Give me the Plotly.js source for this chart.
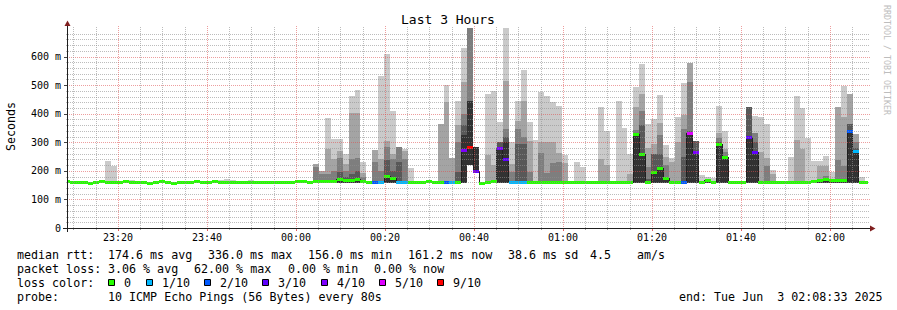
<!DOCTYPE html>
<html><head><meta charset="utf-8">
<script src="https://cdn.plot.ly/plotly-3.0.1.min.js"></script>
<style>
html,body{margin:0;padding:0;background:#fff;}
#chart{width:897px;height:310px;}
.trace.bars path{shape-rendering:crispEdges;}
.scatterlayer path.js-line{shape-rendering:crispEdges;}
</style>
</head><body><div id="chart"></div>
<script>
// ---- data (ms), one value per 80 s step, step 0 starts 2025-06-02 23:07:50 ----
const STEP_START = '2025-06-02 23:07:50';
const STEP_SECONDS = 80;

const median = [
 163,160,160,160,155,160,163,161,159,161,
 162,161,161,160,155,161,163,161,155,161,
 161,161,162,160,160,162,161,161,161,161,
 161,161,161,160,160,160,161,161,161,162,
 162,159,164,162,162,162,170,168,165,170,
 164,159,159,161,181,174,161,161,159,161,
 161,162,158,158,161,159,159,273,283,197,
 155,161,163,279,239,161,161,161,161,161,
 161,161,161,161,160,161,161,161,161,161,
 161,161,161,159,161,161,326,256,161,195,
 209,174,161,161,161,330,263,161,166,161,
 291,247,158,158,161,316,263,161,161,161,
 161,158,161,161,161,161,163,167,169,167,
 166,166,337,267,161,161];

const lossTenths = [
 0,0,0,0,0,0,0,0,0,0,
 0,0,0,0,0,0,0,0,0,0,
 0,0,0,0,0,0,0,0,0,0,
 0,0,0,0,0,0,0,0,0,0,
 0,0,0,0,0,0,0,0,0,0,
 0,0,2,1,0,0,1,1,0,0,
 0,0,0,0,2,1,0,4,9,3,
 0,0,0,4,3,1,1,1,0,0,
 0,0,0,0,0,0,0,0,0,0,
 0,0,0,0,0,0,0,0,0,0,
 0,0,0,0,2,5,4,0,0,0,
 0,0,0,0,0,3,3,0,0,0,
 0,0,0,0,0,0,0,0,0,0,
 0,0,2,1,0,0];

// smoke band tops: band1 = outermost (max ping) ... band5 = innermost
const smoke1 = [
 163,160,160,160,158,160,168,234,218,161,
 168,168,161,160,158,161,166,166,158,161,
 161,161,162,163,160,162,168,172,168,161,
 161,168,165,160,160,160,161,161,165,162,
 162,159,224,200,385,310,310,260,461,483,
 231,159,273,532,609,410,284,278,209,161,
 161,162,158,363,500,244,444,629,705,284,
 155,468,481,372,699,300,445,553,371,307,
 476,462,440,427,256,161,232,215,161,161,
 424,340,161,445,351,258,495,574,365,382,
 466,291,246,389,506,576,305,186,177,174,
 427,340,158,158,161,424,391,389,365,202,
 161,158,249,463,419,316,235,235,253,197,
 424,497,469,330,179,161];

const smoke2 = [
 163,160,160,160,155,160,163,161,159,161,
 162,161,161,160,155,161,163,161,155,161,
 161,161,162,160,160,162,161,161,161,161,
 161,166,161,160,160,160,161,161,165,162,
 162,159,224,200,277,242,270,224,401,401,
 193,159,273,240,305,260,284,270,159,161,
 161,162,158,363,442,244,360,511,705,284,
 155,256,221,302,515,224,375,445,305,161,
 300,300,300,264,228,161,161,161,161,161,
 242,221,161,159,161,190,424,470,280,293,
 368,250,232,300,396,576,305,161,166,161,
 334,277,158,158,161,424,333,267,244,190,
 161,158,161,308,277,161,163,218,218,167,
 424,389,469,330,161,161];

const smoke3 = [
 163,160,160,160,155,160,163,161,159,161,
 162,161,161,160,155,161,163,161,155,161,
 161,161,162,160,160,162,161,161,161,161,
 161,161,161,160,160,160,161,161,161,162,
 162,159,213,190,190,200,245,200,240,245,
 180,159,230,200,284,240,284,240,159,161,
 161,162,158,158,161,159,300,400,705,284,
 155,161,163,302,347,197,347,320,197,161,
 262,193,226,230,160,161,161,161,161,161,
 161,161,161,159,161,161,342,409,214,258,
 326,221,161,161,347,512,305,161,166,161,
 314,267,158,158,161,424,333,161,217,161,
 161,158,161,161,161,161,163,167,181,167,
 238,218,364,300,161,161];

const smoke4 = [
 163,160,160,160,155,160,163,161,159,161,
 162,161,161,160,155,161,163,161,155,161,
 161,161,162,160,160,162,161,161,161,161,
 161,161,161,160,160,160,161,161,161,162,
 162,159,164,162,162,162,197,180,190,199,
 164,159,159,161,238,200,230,161,159,161,
 161,162,158,158,161,159,196,360,445,284,
 155,161,163,302,320,161,294,294,161,161,
 161,161,161,161,160,161,161,161,161,161,
 161,161,161,159,161,161,330,360,170,258,
 260,180,161,161,250,340,305,161,166,161,
 300,250,158,158,161,424,300,161,161,161,
 161,158,161,161,161,161,163,167,169,167,
 166,166,364,280,161,161];

const smoke5 = [
 163,160,160,160,155,160,163,161,159,161,
 162,161,161,160,155,161,163,161,155,161,
 161,161,162,160,160,162,161,161,161,161,
 161,161,161,160,160,160,161,161,161,162,
 162,159,164,162,162,162,170,168,165,170,
 164,159,159,161,181,174,161,161,159,161,
 161,162,158,158,161,159,159,325,445,284,
 155,161,163,279,301,161,161,161,161,161,
 161,161,161,161,160,161,161,161,161,161,
 161,161,161,159,161,161,326,256,161,195,
 209,174,161,161,161,330,263,161,166,161,
 291,247,158,158,161,316,263,161,161,161,
 161,158,161,161,161,161,163,167,169,167,
 166,166,340,267,161,161];

// smoke bottom (lowest ping)
const smokeLow = [
 157,157,157,157,152,157,157,157,157,157,
 157,157,157,157,152,157,157,157,152,157,
 157,157,157,157,157,157,157,157,157,157,
 157,157,157,157,157,157,157,157,157,157,
 157,156,157,157,157,157,157,157,157,157,
 157,157,157,157,157,157,157,157,157,157,
 157,157,155,155,157,157,157,157,220,197,
 152,157,157,157,157,157,157,157,157,157,
 157,157,157,157,157,157,157,157,157,157,
 157,157,157,157,157,157,157,157,157,157,
 157,157,157,157,157,157,157,157,157,157,
 157,157,155,155,157,157,157,157,157,157,
 157,155,157,157,157,157,157,157,157,157,
 157,157,157,157,157,157];

const yTickVals = [0,100,200,300,400,500,600];
const yTickText = ['0','100 m','200 m','300 m','400 m','500 m','600 m'];

const lossLegend = [
 {n:0, label:'0',    color:'#26ff00'},
 {n:1, label:'1/10', color:'#00b8ff'},
 {n:2, label:'2/10', color:'#0059ff'},
 {n:3, label:'3/10', color:'#5e00ff'},
 {n:4, label:'4/10', color:'#7e00ff'},
 {n:5, label:'5/10', color:'#dd00ff'},
 {n:9, label:'9/10', color:'#ff0000'}];

const statsLine1 = ['median rtt:','174.6 ms avg','336.0 ms max','156.0 ms min','161.2 ms now','38.6 ms sd','4.5','am/s'];
const statsLine2 = ['packet loss:','3.06 % avg','62.00 % max','0.00 % min','0.00 % now'];
const probeText = ['probe:','10 ICMP Echo Pings (56 Bytes) every 80s'];
const endText = 'end: Tue Jun \u00a03 02:08:33 2025';

// ---- build ----
const MONO = 'DejaVu Sans Mono';
const t0 = Date.parse(STEP_START.replace(' ','T')+'Z');
const stepMs = STEP_SECONDS*1000;
const iso = t => new Date(t).toISOString().replace('T',' ').replace('Z','');
const starts = median.map((_,i)=>t0+i*stepMs);
const centres = starts.map(t=>iso(t+stepMs/2));
const xStart = Date.UTC(2025,5,2,23,8,33), xEnd = Date.UTC(2025,5,3,2,8,33);

const bandColors = ['#cacaca','#a4a4a4','#7e7e7e','#585858','#323232'];
const bands = [smoke1,smoke2,smoke3,smoke4,smoke5];
const traces = [];
bands.forEach((b,k)=>{
  traces.push({type:'bar', x:centres, base:smokeLow, y:b.map((v,i)=>v-smokeLow[i]),
    width:stepMs, marker:{color:bandColors[k], line:{width:0}}, hoverinfo:'skip', showlegend:false});
});
traces.push({type:'scatter', mode:'lines',
  x:starts.concat([t0+median.length*stepMs]).map(iso),
  y:median.concat([median[median.length-1]]),
  line:{shape:'hv', color:'#202020', width:1}, hoverinfo:'skip', showlegend:false});
lossLegend.forEach(l=>{
  const xs=[], ys=[];
  median.forEach((m,i)=>{
    if(lossTenths[i]===l.n){ xs.push(iso(starts[i]), iso(starts[i]+stepMs), null); ys.push(m,m,null); }
  });
  if(xs.length) traces.push({type:'scatter', mode:'lines', x:xs, y:ys, connectgaps:false,
    line:{color:l.color, width:3}, hoverinfo:'skip', showlegend:false});
});

// pixel <-> paper helpers (plot area 67..868 x 28..228)
const L=67, R=868, T=28, B=228;
const PX = p => (p-L)/(R-L);
const PY = p => (B-p)/(B-T);
const valToRow = v => Math.round(B - v*(B-T)/700) + 0.5;
const timeToCol = t => Math.round(L + (t-xStart)*(R-L)/(xEnd-xStart)) + 0.5;

const G_MIN='rgba(143,143,143,0.6)', G_MAJ='rgba(222,79,79,0.55)';
const shapes=[];
for(let v=20; v<700; v+=20){
  const major = v%100===0, r=valToRow(v);
  shapes.push({type:'line', layer:'above', xref:'paper', yref:'paper',
    x0:PX(major?65:66), x1:PX(major?871:870), y0:PY(r), y1:PY(r),
    line:{color:major?G_MAJ:G_MIN, width:1, dash:'1px,1px'}});
}
const firstGrid = Date.UTC(2025,5,2,23,10);
for(let k=0;k<36;k++){
  const t=firstGrid+k*300000;
  const major = new Date(t).getUTCMinutes()%20===0, c=timeToCol(t);
  shapes.push({type:'line', layer:'above', xref:'paper', yref:'paper', x0:PX(c), x1:PX(c),
    y0:PY(major?231:230), y1:PY(major?26:27),
    line:{color:major?G_MAJ:G_MIN, width:1, dash:'1px,1px'}});
  shapes.push({type:'line', layer:'above', xref:'paper', yref:'paper', x0:PX(c), x1:PX(c),
    y0:PY(229), y1:PY(major?231:230), line:{color:major?'rgba(222,79,79,0.8)':G_MIN, width:1}});
}
yTickVals.forEach(v=>{
  if(v>0){ const r=valToRow(v);
    shapes.push({type:'line', layer:'above', xref:'paper', yref:'paper', x0:PX(64), x1:PX(67), y0:PY(r), y1:PY(r),
    line:{color:'#444', width:1}}); }
});
// axes
shapes.push({type:'line', layer:'above', xref:'paper', yref:'paper', x0:PX(63), x1:PX(872), y0:PY(228.5), y1:PY(228.5), line:{color:'#1f1f1f', width:1}});
shapes.push({type:'line', layer:'above', xref:'paper', yref:'paper', x0:PX(67.5), x1:PX(67.5), y0:PY(232), y1:PY(24), line:{color:'#1f1f1f', width:1}});
shapes.push({type:'path', layer:'above', xref:'paper', yref:'paper',
  path:`M ${PX(870)} ${PY(225.5)} L ${PX(870)} ${PY(231.5)} L ${PX(875.5)} ${PY(228.5)} Z`,
  fillcolor:'#801f1f', line:{width:0}});
shapes.push({type:'path', layer:'above', xref:'paper', yref:'paper',
  path:`M ${PX(64.5)} ${PY(26)} L ${PX(70.5)} ${PY(26)} L ${PX(67.5)} ${PY(20.5)} Z`,
  fillcolor:'#801f1f', line:{width:0}});

// annotations
const ann=[];
function txt(s, px, py, opts){
  ann.push(Object.assign({text:s, xref:'paper', yref:'paper', x:PX(px), y:PY(py), showarrow:false,
    xanchor:'left', yanchor:'middle', borderpad:0, font:{family:MONO, size:11.66, color:'#000'}}, opts||{}));
}
txt('Last 3 Hours', 447.5, 19.5, {xanchor:'center', font:{family:MONO, size:13, color:'#000'}});
txt('Seconds', 11, 127, {xanchor:'center', textangle:-90});
txt('RRDTOOL / TOBI OETIKER', 886.5, 59.5, {xanchor:'center', textangle:90, font:{family:MONO, size:8.3, color:'#bdbdbd'}});
const l1x=[16,107.3,207.3,307.3,407.3,507.3,589.3,635.7];
statsLine1.forEach((s,i)=>txt(s,l1x[i],254.6));
const l2x=[16,107.3,193.3,286.7,372.7];
statsLine2.forEach((s,i)=>txt(s,l2x[i],268.6));
txt('loss color:',16,282.6);
const sqx=[108.3,145.7,204.0,262.3,320.6,378.9,437.2];
lossLegend.forEach((l,i)=>{
  shapes.push({type:'rect', layer:'above', xref:'paper', yref:'paper',
    x0:PX(Math.round(sqx[i])+0.5), x1:PX(Math.round(sqx[i])+6.5), y0:PY(279.5), y1:PY(285.5),
    fillcolor:l.color, line:{color:'#000', width:1}});
  txt(l.label, sqx[i]+15, 282.6);
});
txt(probeText[0],16,296.6);
txt(probeText[1],107.3,296.6);
txt(endText,678.3,296.6);

const layout={
  width:897, height:310, margin:{l:L, r:897-R, t:T, b:310-B, pad:0},
  paper_bgcolor:'#fff', plot_bgcolor:'#fff', showlegend:false, barmode:'overlay',
  font:{family:MONO, size:10, color:'#000'},
  xaxis:{type:'date', range:[iso(xStart), iso(xEnd)],
    showgrid:false, zeroline:false, showline:false, ticks:'',
    tickmode:'linear', tick0:'2025-06-02 23:20:00', dtick:1200000, tickformat:'%H:%M',
    tickfont:{family:MONO, size:10, color:'#000'}, ticklabelstandoff:2, fixedrange:true},
  yaxis:{range:[0,700], showgrid:false, zeroline:false, showline:false, ticks:'',
    tickmode:'array', tickvals:yTickVals, ticktext:yTickText,
    tickfont:{family:MONO, size:10, color:'#000'}, ticklabelstandoff:5, fixedrange:true},
  shapes:shapes, annotations:ann
};
Plotly.newPlot('chart', traces, layout, {displayModeBar:false, staticPlot:true});
</script>
</body></html>
